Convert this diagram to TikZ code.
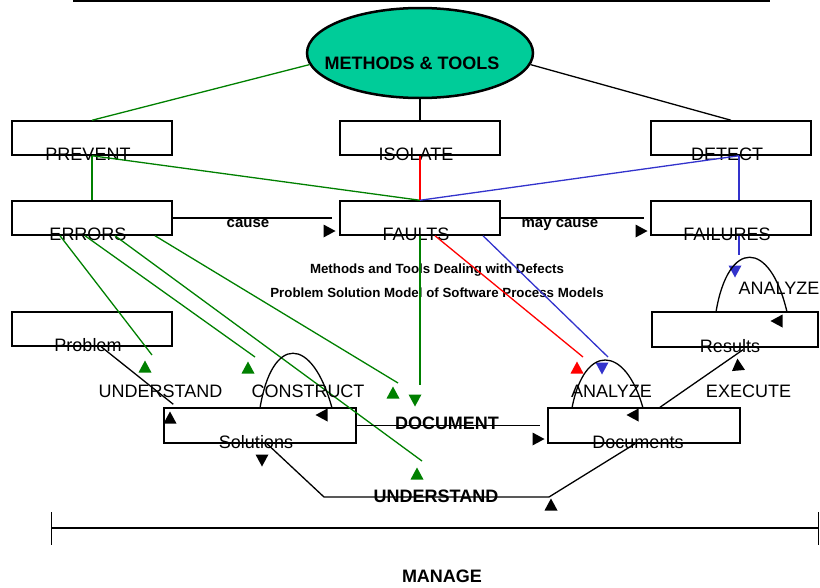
\documentclass[tikz,border=0pt]{standalone}
\usepackage{fontspec}
\setmainfont{Liberation Sans}
\usetikzlibrary{shapes.geometric}
\definecolor{gr}{HTML}{008000}
\definecolor{rd}{HTML}{FF0000}
\definecolor{bl}{HTML}{3333CC}
\definecolor{tealfill}{HTML}{00CC99}
\tikzset{
  pics/tri/.style={code={\fill[#1] (6.5pt,0pt) -- (-5.5pt,6.5pt) -- (-5.5pt,-6.5pt) -- cycle;}},
  pics/tri/.default=black
}
\begin{document}
\begin{tikzpicture}[x=1pt,y=-1pt,
  box/.style={draw,line width=1.5pt,minimum width=160pt,minimum height=34pt,inner sep=0pt},
  lbl/.style={font=\fontsize{18}{20}\selectfont,anchor=base,inner sep=0pt},
  blbl/.style={font=\fontsize{18}{20}\selectfont\bfseries,anchor=base,inner sep=0pt},
  sbl/.style={font=\fontsize{15}{17}\selectfont\bfseries,anchor=base,inner sep=0pt},
  tbl/.style={font=\fontsize{13.3}{15}\selectfont\bfseries,anchor=base,inner sep=0pt},
  gline/.style={draw=gr,line width=1.3pt},
  rline/.style={draw=rd,line width=1.3pt},
  bline/.style={draw=bl,line width=1.3pt},
  kline/.style={draw=black,line width=1.3pt}]
\useasboundingbox (0,0) rectangle (820,587);

% top rule
\draw[line width=1.5pt] (73,1) -- (770,1);

% central ellipse
\node[ellipse,draw,line width=2.5pt,fill=tealfill,minimum width=226pt,minimum height=90pt,inner sep=0pt] (mt) at (420,53) {};
\node[blbl] (mtT) at (412,69) {METHODS \& TOOLS};

% boxes
\node[box] (prevent)  at (92,138) {};
\node[box] (isolate)  at (420,138) {};
\node[box] (detect)   at (731,138) {};
\node[box] (errors)   at (92,218) {};
\node[box] (faults)   at (420,218) {};
\node[box] (failures) at (731,218) {};
\node[box] (problem)  at (92,329) {};
\node[box,minimum width=166pt,minimum height=35pt] (results) at (735,329.5) {};
\node[box,minimum width=192pt,minimum height=35pt] (solutions) at (260,425.5) {};
\node[box,minimum width=192pt,minimum height=35pt] (documents) at (644,425.5) {};

% box labels
\node[lbl] (preventT)  at ([xshift=-4pt,yshift=-5pt]prevent.south) {PREVENT};
\node[lbl] (isolateT)  at ([xshift=-4pt,yshift=-5pt]isolate.south) {ISOLATE};
\node[lbl] (detectT)   at ([xshift=-4pt,yshift=-5pt]detect.south) {DETECT};
\node[lbl] (errorsT)   at ([xshift=-4pt,yshift=-5pt]errors.south) {ERRORS};
\node[lbl] (faultsT)   at ([xshift=-4pt,yshift=-5pt]faults.south) {FAULTS};
\node[lbl] (failuresT) at ([xshift=-4pt,yshift=-5pt]failures.south) {FAILURES};
\node[lbl] (problemT)  at ([xshift=-4pt,yshift=-5pt]problem.south) {Problem};
\node[lbl] (resultsT)  at ([xshift=-5pt,yshift=-5pt]results.south) {Results};
\node[lbl] (solutionsT) at ([xshift=-4pt,yshift=-5pt]solutions.south) {Solutions};
\node[lbl] (documentsT) at ([xshift=-6pt,yshift=-5pt]documents.south) {Documents};

% free-end coordinates
\coordinate (causeEnd) at (332,218);
\coordinate (mayEnd) at (644,218);
\coordinate (docEnd) at (420,385);
\coordinate (redEnd) at (583,357);
\coordinate (blueEnd) at (608,357);
\coordinate (failEnd) at (739,255);
\coordinate (g1End) at (152,355);
\coordinate (g2End) at (255,357);
\coordinate (g3End) at (422,461);
\coordinate (g4End) at (398,383);
\coordinate (docLineEnd) at (540,425.5);
\coordinate (uA) at (324,497);
\coordinate (uB) at (549,497);

% connectors from ellipse
\draw[gline] (mt.186) -- (prevent.north);
\draw[kline] (mt.south) -- (isolate.north);
\draw[kline] (mt.-6) -- (detect.north);

% second level
\draw[gline] (prevent.south) -- (errors.north);
\draw[gline] (prevent.south) -- (faults.north);
\draw[rline] (isolate.south) -- (faults.north);
\draw[bline] ([xshift=8pt]detect.south) -- (faults.north);
\draw[bline] ([xshift=8pt]detect.south) -- ([xshift=8pt]failures.north);

% cause / may cause
\draw[kline] (errors.east) -- (causeEnd);
\node[sbl] (causeT) at (248,227) {cause};
\draw[kline] (faults.east) -- (mayEnd);
\node[sbl] (mayT) at (560,227) {may cause};
\pic at (329,231) {tri};
\pic at (641,231) {tri};

% titles
\node[tbl] (title1) at (437,273) {Methods and Tools Dealing with Defects};
\node[tbl] (title2) at (437,297) {Problem Solution Model of Software Process Models};

% lines from FAULTS
\draw[gline] (faults.south) -- (docEnd);
\draw[rline] ([xshift=15pt]faults.south) -- (redEnd);
\draw[bline] ([xshift=63pt]faults.south) -- (blueEnd);
\draw[bline] ([xshift=8pt]failures.south) -- (failEnd);

% green lines from ERRORS
\draw[gline] ([xshift=-32pt]errors.south) -- (g1End);
\draw[gline] ([xshift=-7pt]errors.south) -- (g2End);
\draw[gline] ([xshift=23pt]errors.south) -- (g3End);
\draw[gline] ([xshift=63pt]errors.south) -- (g4End);

% green arrowheads
\pic[rotate=90] at (145,367) {tri=gr};
\pic[rotate=90] at (248,368) {tri=gr};
\pic[rotate=90] at (393,393) {tri=gr};
\pic[rotate=-90] at (415,400) {tri=gr};
\pic[rotate=90] at (417,474) {tri=gr};
\pic[rotate=90] at (577,368) {tri=rd};
\pic[rotate=-90] at (602,368) {tri=bl};
\pic[rotate=-90] at (735,271) {tri=bl};

% problem -> solutions (UNDERSTAND)
\draw[kline] ([xshift=8pt,yshift=1pt]problem.south) -- ([xshift=10pt,yshift=3pt]solutions.north west);
\pic[rotate=90] at (170,418) {tri};
\node[lbl] (understandT) at (160.5,397) {UNDERSTAND};

% loops
\draw[kline] (260,408) .. controls (272,335) and (312,335) .. (332,408);
\pic[rotate=180] at (322,415) {tri};
\node[lbl] (constructT) at (308,397) {CONSTRUCT};

\draw[kline] (572,408) .. controls (584,344) and (625,344) .. (643,408);
\pic[rotate=180] at (633,415) {tri};
\node[lbl] (analyzeT) at (611.5,397) {ANALYZE};

\draw[kline] (716,312) .. controls (728,239) and (770,239) .. (787,312);
\pic[rotate=180] at (777,321) {tri};
\node[lbl] (analyze2T) at (779,294) {ANALYZE};

% execute
\draw[kline] ([xshift=16pt]documents.north) -- ([xshift=8pt,yshift=-2pt]results.south);
\pic[rotate=95] at (738,365) {tri};
\node[lbl] (executeT) at (748.5,397) {EXECUTE};

% document
\draw[kline] (solutions.east) -- (docLineEnd);
\pic at (538,439) {tri};
\node[blbl] (documentT) at (447,429) {DOCUMENT};

% understand (bottom)
\draw[kline] ([xshift=7pt]solutions.south) -- (uA) -- (uB) -- ([xshift=-9pt]documents.south);
\pic[rotate=-90] at (262,460) {tri};
\pic[rotate=90] at (551,505) {tri};
\node[blbl] (understand2T) at (436,502) {UNDERSTAND};

% manage bar
\draw[line width=1.3pt] (51,528) -- (818,528);
\draw[line width=1pt] (51,512) -- (51,545);
\draw[line width=1pt] (818,512) -- (818,545);
\node[blbl] (manageT) at (442,582) {MANAGE};
\end{tikzpicture}
\end{document}
